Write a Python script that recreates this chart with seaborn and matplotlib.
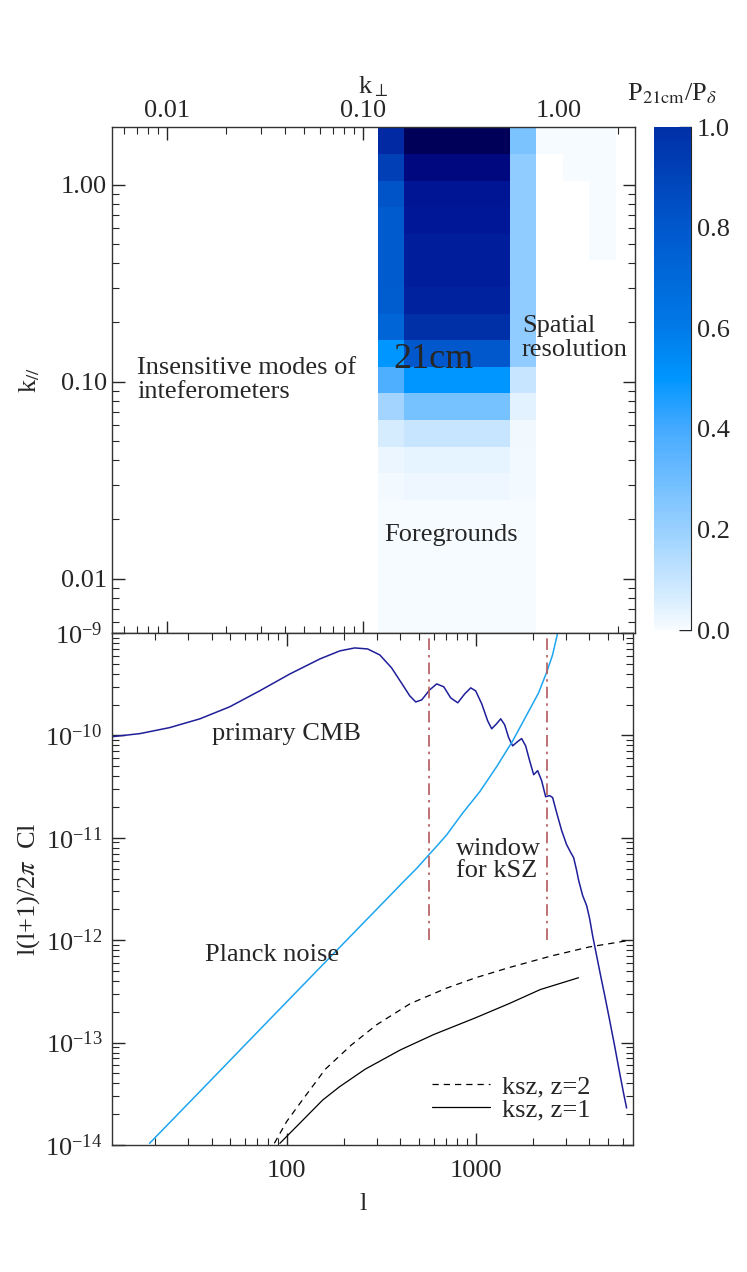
import numpy as np
import matplotlib
matplotlib.use("Agg")
import matplotlib.pyplot as plt
import matplotlib.ticker as mticker
from matplotlib.colors import LinearSegmentedColormap, ListedColormap, Normalize
import seaborn as sns

sns.set_style("ticks")
plt.rcParams["font.family"] = ["Liberation Serif", "DejaVu Serif"]
plt.rcParams["mathtext.fontset"] = "stix"
plt.rcParams["font.size"] = 19

# ---- top panel: P21cm/Pdelta on (k_perp, k_par) bins ----
kperp_edges = [0.119, 0.162, 0.221, 0.302, 0.412, 0.562, 0.767, 1.047, 1.43, 1.95]
kpar_edges = [0.00389, 0.0053, 0.00724, 0.0099, 0.0135, 0.0184, 0.0251, 0.0343,
              0.0468, 0.0639, 0.0872, 0.119, 0.162, 0.221, 0.302, 0.412, 0.562,
              0.767, 1.047, 1.43, 1.95]
nan = np.nan
# rows from lowest k_par to highest, columns from lowest k_perp
ratio = [
    [0.005, 0.005, 0.005, 0.005, 0.005, 0.005, nan, nan, nan],
    [0.005, 0.005, 0.005, 0.005, 0.005, 0.005, nan, nan, nan],
    [0.005, 0.005, 0.005, 0.005, 0.005, 0.005, nan, nan, nan],
    [0.005, 0.005, 0.005, 0.005, 0.005, 0.005, nan, nan, nan],
    [0.005, 0.005, 0.005, 0.005, 0.005, 0.005, nan, nan, nan],
    [0.005, 0.005, 0.005, 0.005, 0.005, 0.005, nan, nan, nan],
    [0.010, 0.020, 0.020, 0.020, 0.020, 0.006, nan, nan, nan],
    [0.025, 0.035, 0.035, 0.035, 0.035, 0.008, nan, nan, nan],
    [0.07, 0.10, 0.10, 0.10, 0.10, 0.015, nan, nan, nan],
    [0.18, 0.28, 0.28, 0.28, 0.28, 0.04, nan, nan, nan],
    [0.38, 0.50, 0.50, 0.50, 0.50, 0.10, nan, nan, nan],
    [0.50, 0.80, 0.80, 0.80, 0.80, 0.22, nan, nan, nan],
    [0.72, 1.00, 1.00, 1.00, 1.00, 0.22, nan, nan, nan],
    [0.77, 1.06, 1.06, 1.06, 1.06, 0.22, nan, nan, nan],
    [0.78, 1.08, 1.08, 1.08, 1.08, 0.22, nan, nan, nan],
    [0.78, 1.08, 1.08, 1.08, 1.08, 0.22, nan, nan, 0.005],
    [0.78, 1.10, 1.10, 1.10, 1.10, 0.22, nan, nan, 0.005],
    [0.82, 1.12, 1.12, 1.12, 1.12, 0.22, nan, nan, 0.005],
    [0.92, 1.20, 1.20, 1.20, 1.20, 0.22, nan, 0.005, 0.005],
    [1.03, 1.30, 1.30, 1.30, 1.30, 0.27, 0.005, 0.005, 0.005],
]

# ---- bottom panel: angular power spectra ----
l_cmb = [11.9, 16.7, 24.0, 34.7, 49.9, 71.9, 104, 150, 191, 229, 268, 311, 359,
         411, 448, 482, 518, 571, 622, 678, 738, 804, 875, 942, 1000, 1077, 1157,
         1216, 1292, 1357, 1424, 1495, 1570, 1668, 1751, 1839, 1931, 2028, 2129,
         2235, 2346, 2463, 2555, 2683, 2851, 3028, 3182, 3301, 3423, 3509, 3684,
         3867, 4010, 4159, 4365, 4582, 4818, 5058, 5433, 5778, 6067, 6295]
cl_cmb = [9.7e-11, 1.04e-10, 1.19e-10, 1.45e-10, 1.90e-10, 2.72e-10, 3.98e-10,
          5.58e-10, 6.68e-10, 7.14e-10, 6.98e-10, 6.1e-10, 4.56e-10, 3.11e-10,
          2.43e-10, 2.12e-10, 2.22e-10, 2.78e-10, 3.18e-10, 2.98e-10, 2.32e-10,
          2.08e-10, 2.54e-10, 2.91e-10, 2.72e-10, 2.03e-10, 1.39e-10, 1.16e-10,
          1.30e-10, 1.45e-10, 1.27e-10, 9.5e-11, 7.9e-11, 8.7e-11, 9.3e-11,
          7.9e-11, 5.65e-11, 4.13e-11, 4.52e-11, 3.61e-11, 2.52e-11, 2.58e-11,
          2.47e-11, 1.76e-11, 1.18e-11, 8.6e-12, 7.2e-12, 6.4e-12, 4.8e-12,
          3.83e-12, 2.73e-12, 2.18e-12, 1.63e-12, 1.11e-12, 7.1e-13, 4.54e-13,
          2.90e-13, 1.85e-13, 9.4e-14, 5.1e-14, 3.2e-14, 2.3e-14]

l_noise = [18.8, 34.7, 63.7, 117, 215, 421, 488, 564, 630, 703, 853, 1050, 1292,
           1570, 1751, 1931, 2153, 2377, 2553, 2717]
cl_noise = [1.04e-14, 3.33e-14, 1.06e-13, 3.37e-13, 1.07e-12, 3.83e-12, 5.04e-12,
            6.79e-12, 8.5e-12, 1.07e-11, 1.74e-11, 2.81e-11, 4.95e-11, 8.83e-11,
            1.28e-10, 1.79e-10, 2.6e-10, 4.14e-10, 6.1e-10, 1.0e-9]

l_ksz2 = [86, 100, 121, 160, 220, 300, 450, 700, 1000, 1500, 2500, 4000, 6600]
cl_ksz2 = [1.04e-14, 1.7e-14, 2.75e-14, 5.5e-14, 9.5e-14, 1.5e-13, 2.4e-13,
           3.4e-13, 4.3e-13, 5.4e-13, 7.0e-13, 8.6e-13, 1.0e-12]

l_ksz1 = [92, 110, 155, 190, 260, 400, 600, 1000, 1500, 2200, 3500]
cl_ksz1 = [1.04e-14, 1.45e-14, 2.75e-14, 3.7e-14, 5.5e-14, 8.5e-14, 1.2e-13,
           1.75e-13, 2.4e-13, 3.3e-13, 4.3e-13]

l_window = [564, 2377]
cl_window_top = 1e-9
cl_window_bottom = 1e-12

# colormap: white -> light blue -> bright blue -> navy (values > 1 get darker)
vmax = 1.3
anchors = [(0.0, "#f6fbff"), (0.05, "#dcefff"), (0.2, "#98d0ff"), (0.4, "#44aaff"),
           (0.5, "#0096ff"), (0.6, "#007ae8"), (0.8, "#0058cc"), (1.0, "#0030a8"),
           (1.1, "#001898"), (1.2, "#000880"), (1.3, "#000058")]
cmap = LinearSegmentedColormap.from_list("p21", [(v / vmax, c) for v, c in anchors])
cmap.set_bad("white")

fig = plt.figure(figsize=(7.47, 12.72), dpi=100)
ax1 = fig.add_axes([0.150, 0.5024, 0.700, 0.3978])
ax2 = fig.add_axes([0.150, 0.0998, 0.697, 0.4026])
cax = fig.add_axes([0.8755, 0.5047, 0.0495, 0.3954])

ax1.set_xscale("log")
ax1.set_yscale("log")
ax1.pcolormesh(kperp_edges, kpar_edges, np.ma.masked_invalid(np.array(ratio)),
               cmap=cmap, vmin=0, vmax=vmax, shading="flat")
ax1.set_xlim(0.00524, 2.44)
ax1.set_ylim(0.0053, 1.96)

fmt2 = mticker.FuncFormatter(lambda v, p: "%.2f" % v)
ax1.xaxis.set_major_locator(mticker.FixedLocator([0.01, 0.1, 1.0]))
ax1.yaxis.set_major_locator(mticker.FixedLocator([0.01, 0.1, 1.0]))
ax1.xaxis.set_major_formatter(fmt2)
ax1.yaxis.set_major_formatter(fmt2)
ax1.xaxis.set_minor_formatter(mticker.NullFormatter())
ax1.yaxis.set_minor_formatter(mticker.NullFormatter())
ax1.xaxis.tick_top()
ax1.xaxis.set_label_position("top")
ax1.set_xlabel(r"k$_\perp$", labelpad=5)
ax1.set_ylabel(r"k$_{//}$", labelpad=14)
ax1.tick_params(which="both", direction="in", top=True, bottom=True, left=True, right=True)
ax1.tick_params(which="major", length=9, width=1)
ax1.tick_params(which="minor", length=5, width=0.8)

ax1.text(0.00703, 0.102, "Insensitive modes of\ninteferometers", ha="left", va="center",
         linespacing=1.1)
ax1.text(0.2275, 0.129, "21cm", ha="center", va="center", fontsize=26)
ax1.text(0.647, 0.167, "Spatial\nresolution", ha="left", va="center", linespacing=1.1)
ax1.text(0.129, 0.0167, "Foregrounds", ha="left", va="center")

# colorbar (0..1 part of the map)
bar_cmap = ListedColormap(cmap(np.linspace(0, 1.0 / vmax, 256)))
sm = plt.cm.ScalarMappable(norm=Normalize(0, 1), cmap=bar_cmap)
cb = fig.colorbar(sm, cax=cax)
cb.outline.set_visible(False)
cax.spines["right"].set_visible(True)
cb.set_ticks([0.0, 0.2, 0.4, 0.6, 0.8, 1.0])
cb.ax.yaxis.set_minor_locator(mticker.MultipleLocator(0.05))
cb.ax.yaxis.set_major_formatter(mticker.FormatStrFormatter("%.1f"))
cax.tick_params(which="both", direction="in", right=True, left=False)
cax.tick_params(which="major", length=9, width=1, pad=4)
cax.tick_params(which="minor", length=5, width=0.8)
cax.set_title(r"P$_{21\mathrm{cm}}$/P$_\delta$", fontsize=19, pad=19)

# bottom panel
ax2.set_xscale("log")
ax2.set_yscale("log")
sns.lineplot(x=l_cmb, y=cl_cmb, ax=ax2, color="#1f1f9a", lw=1.1, sort=False)
sns.lineplot(x=l_noise, y=cl_noise, ax=ax2, color="#1fa5f0", lw=1.1, sort=False)
sns.lineplot(x=l_ksz2, y=cl_ksz2, ax=ax2, color="black", lw=0.9, linestyle=(0, (5, 4)),
             sort=False, label="ksz, z=2")
sns.lineplot(x=l_ksz1, y=cl_ksz1, ax=ax2, color="black", lw=0.9, sort=False,
             label="ksz, z=1")
for lw_ in l_window:
    ax2.plot([lw_, lw_], [cl_window_bottom, cl_window_top], color="#b35a5a", lw=1.2,
             linestyle=(0, (7, 3, 1.5, 3)))

ax2.set_xlim(11.9, 6780)
ax2.set_ylim(1e-14, 1e-9)
ax2.xaxis.set_major_locator(mticker.FixedLocator([100, 1000]))
ax2.xaxis.set_major_formatter(mticker.FixedFormatter(["100", "1000"]))
ax2.xaxis.set_minor_locator(mticker.LogLocator(base=10, subs=np.arange(2, 10)))
ax2.xaxis.set_minor_formatter(mticker.NullFormatter())
ax2.yaxis.set_major_locator(mticker.LogLocator(base=10, numticks=10))
ax2.yaxis.set_minor_locator(mticker.LogLocator(base=10, subs=np.arange(2, 10), numticks=10))
ax2.yaxis.set_minor_formatter(mticker.NullFormatter())
ax2.tick_params(which="both", direction="in", top=True, bottom=True, left=True, right=True)
ax2.tick_params(which="major", length=9, width=1, pad=7)
ax2.tick_params(axis="x", which="major", pad=11)
ax2.tick_params(which="minor", length=5, width=0.8)
ax2.set_xlabel("l", labelpad=8)
ax2.xaxis.label.set_x(0.482)
ax2.set_ylabel(r"l(l+1)/2$\pi$  Cl", labelpad=2)

ax2.text(40, 1.03e-10, "primary CMB", ha="left", va="center")
ax2.text(783, 6.1e-12, "window\nfor kSZ", ha="left", va="center", linespacing=1.0)
ax2.text(36.8, 7.1e-13, "Planck noise", ha="left", va="center")

leg = ax2.legend(loc="lower left", frameon=False, handlelength=2.2, fontsize=19,
                 bbox_to_anchor=(0.614, 0.046), labelspacing=0.0, handletextpad=0.45,
                 borderpad=0, borderaxespad=0)

for a in (ax1, ax2):
    for s in a.spines.values():
        s.set_linewidth(1.0)
        s.set_color("#333333")

fig.savefig("out.png", dpi=100)
